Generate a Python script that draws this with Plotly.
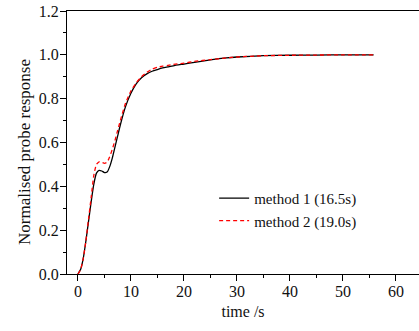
import plotly.graph_objects as go

t1 = [0, 0.5, 1, 1.5, 2, 2.5, 3, 3.5, 4, 4.5, 5, 5.5, 6, 6.5, 7, 7.5, 8, 9, 10, 11, 12, 13, 14, 15, 16, 17, 18, 20, 22, 25, 28, 30, 35, 40, 45, 50, 55.8]
m1 = [0, 0.02, 0.07, 0.15, 0.24, 0.33, 0.41, 0.46, 0.473, 0.47, 0.463, 0.465, 0.49, 0.53, 0.58, 0.63, 0.68, 0.765, 0.825, 0.868, 0.895, 0.913, 0.925, 0.933, 0.94, 0.945, 0.95, 0.958, 0.966, 0.977, 0.986, 0.99, 0.996, 0.998, 0.999, 1.0, 1.0]
t2 = [0, 0.5, 1, 1.5, 2, 2.5, 3, 3.5, 4, 4.5, 5, 5.5, 6, 6.5, 7, 7.5, 8, 9, 10, 11, 12, 13, 14, 15, 16, 17, 18, 20, 22, 25, 28, 30, 35, 40, 45, 50, 55.8]
m2 = [0, 0.02, 0.07, 0.15, 0.25, 0.35, 0.45, 0.50, 0.512, 0.51, 0.505, 0.51, 0.535, 0.57, 0.61, 0.655, 0.70, 0.78, 0.835, 0.872, 0.9, 0.92, 0.935, 0.943, 0.948, 0.952, 0.956, 0.962, 0.97, 0.978, 0.986, 0.99, 0.996, 0.998, 0.999, 1.0, 1.0]
names = ["method 1 (16.5s)", "method 2 (19.0s)"]
x_ticks = [0, 10, 20, 30, 40, 50, 60]
y_ticks = [0.0, 0.2, 0.4, 0.6, 0.8, 1.0, 1.2]
x_title = "time /s"
y_title = "Normalised probe response"

font = dict(family="Liberation Serif", size=16, color="#111")

fig = go.Figure()
fig.add_trace(go.Scatter(x=t1, y=m1, mode="lines", name=names[0], line=dict(color="black", width=1.3, shape="spline", smoothing=0.6)))
fig.add_trace(go.Scatter(x=t2, y=m2, mode="lines", name=names[1], line=dict(color="red", width=1.3, dash="4px,3px", shape="spline", smoothing=0.6)))

fig.add_annotation(text=y_title, xref="paper", yref="paper", x=(24 - 67) / 352, y=(274 - 152) / 263,
                   textangle=-90, showarrow=False, xanchor="center", yanchor="middle",
                   font=dict(family="Liberation Serif", size=17, color="#111"))

fig.update_layout(
    width=419, height=331,
    margin=dict(l=67, r=0, t=11, b=57),
    plot_bgcolor="white", paper_bgcolor="white",
    font=font,
    legend=dict(x=0.418, y=0.35, xanchor="left", yanchor="top", bgcolor="rgba(0,0,0,0)",
                font=dict(family="Liberation Serif", size=15, color="#111"), tracegroupgap=0, itemwidth=30),
    xaxis=dict(range=[-2.06, 64.36], tickvals=x_ticks, ticktext=[str(v) for v in x_ticks],
               showline=True, linecolor="black", linewidth=1.3, mirror=True, showgrid=False, zeroline=False,
               ticks="outside", ticklen=6, tickwidth=1, tickcolor="black", ticklabelstandoff=-3,
               minor=dict(dtick=5, tick0=0, ticks="outside", ticklen=3, tickcolor="black"),
               title=dict(text=x_title, standoff=6, font=font)),
    yaxis=dict(range=[0, 1.2], tickvals=y_ticks, ticktext=["%.1f" % v for v in y_ticks],
               showline=True, linecolor="black", linewidth=1.3, showgrid=False, zeroline=False,
               ticks="outside", ticklen=6, tickwidth=1, tickcolor="black", ticklabelstandoff=-2,
               minor=dict(dtick=0.1, tick0=0, ticks="outside", ticklen=3, tickcolor="black")),
)
fig.write_html("out.html")
